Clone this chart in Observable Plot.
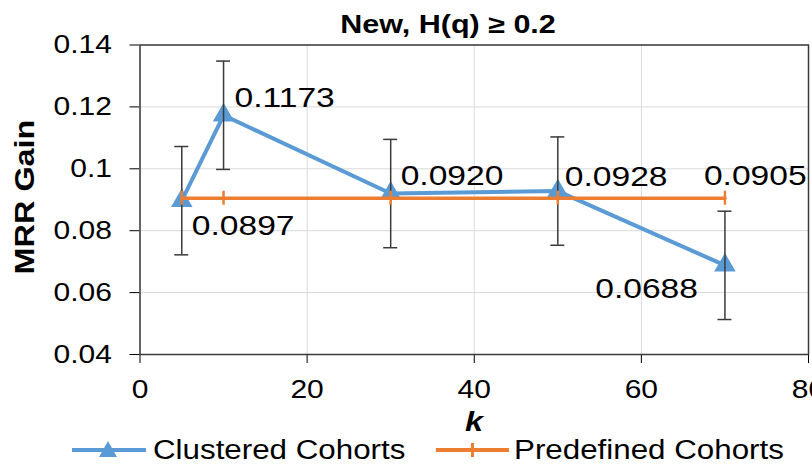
<!DOCTYPE html>
<html><head><meta charset="utf-8">
<script src="https://cdn.jsdelivr.net/npm/d3@7"></script>
<script src="https://cdn.jsdelivr.net/npm/@observablehq/plot@0.6"></script>
<style>
body{margin:0;background:#fff;font-family:"Liberation Sans",Arial,sans-serif;}
#wrap{position:relative;width:812px;height:465px;overflow:hidden;background:#fff;}
#wrap svg{position:absolute;left:0;top:0;}
.ov{position:absolute;white-space:nowrap;color:#000;line-height:1;}
</style></head><body>
<div id="wrap"></div>
<script>
// ---- data ----
const kValues = [5, 10, 30, 50, 70];
const clustered = [0.0897, 0.1173, 0.0920, 0.0928, 0.0688];
const clusteredErr = [0.0175, 0.0175, 0.0175, 0.0175, 0.0175];
const predefined = [0.0905, 0.0905, 0.0905, 0.0905, 0.0905];
const clusteredLabels = ["0.0897", "0.1173", "0.0920", "0.0928", "0.0688"];
const predefinedLabel = "0.0905";
const xTicks = [0, 20, 40, 60, 80];
const yTicks = [0.04, 0.06, 0.08, 0.1, 0.12, 0.14];
const yTickLabels = ["0.04", "0.06", "0.08", "0.1", "0.12", "0.14"];
const titleText = "New, H(q) \u2265 0.2";
const xLabel = "k";
const yLabel = "MRR Gain";
const seriesNames = ["Clustered Cohorts", "Predefined Cohorts"];

// ---- style ----
const BLUE = "#5B9BD5", ORANGE = "#ED7D31", GRID = "#d9d9d9", DARK = "#3a3a3a";
const clusteredLabelPlacement = [
  {dx: 10, dy: 25, anchor: "start"},
  {dx: 11, dy: -17, anchor: "start"},
  {dx: 10, dy: -18, anchor: "start"},
  {dx: 7, dy: -14, anchor: "start"},
  {dx: -27, dy: 24, anchor: "end"}
];
const predefinedLabelPlacement = {dx: -21, dy: -22, anchor: "start"};

const data = kValues.map((k, i) => ({
  k, c: clustered[i], lo: clustered[i] - clusteredErr[i], hi: clustered[i] + clusteredErr[i],
  p: predefined[i], label: clusteredLabels[i]
}));

const labelMarks = data.map((d, i) => Plot.text([d], {
  x: "k", y: "c", text: "label",
  dx: clusteredLabelPlacement[i].dx, dy: clusteredLabelPlacement[i].dy,
  textAnchor: clusteredLabelPlacement[i].anchor, fontSize: 28, fill: "#000"
}));
const last = data[data.length - 1];

const svg = Plot.plot({
  width: 812, height: 465,
  marginTop: 44.5, marginBottom: 111, marginLeft: 139.5, marginRight: 4,
  style: {fontFamily: '"Liberation Sans", Arial, sans-serif', fontSize: "25px", color: "#000", background: "transparent"},
  x: {domain: [0, 80], ticks: xTicks, tickSize: 9, tickPadding: 17, label: null, tickFormat: d => String(d)},
  y: {domain: [0.04, 0.14], ticks: yTicks, tickSize: 10, tickPadding: 18, label: null,
      tickFormat: d => yTickLabels[yTicks.indexOf(d)]},
  marks: [
    Plot.ruleY(yTicks, {stroke: GRID, strokeWidth: 1}),
    Plot.ruleX(xTicks, {stroke: GRID, strokeWidth: 1}),
    Plot.frame({stroke: DARK, strokeWidth: 1.5}),
    Plot.line(data, {x: "k", y: "c", stroke: BLUE, strokeWidth: 4}),
    Plot.dot(data, {x: "k", y: "c", symbol: "triangle", r: 8, fill: BLUE, stroke: null}),
    Plot.ruleX(data, {x: "k", y1: "lo", y2: "hi", stroke: DARK, strokeWidth: 1.5}),
    Plot.ruleY(data, {y: "hi", x1: "k", x2: "k", insetLeft: -7, insetRight: -7, stroke: DARK, strokeWidth: 1.5}),
    Plot.ruleY(data, {y: "lo", x1: "k", x2: "k", insetLeft: -7, insetRight: -7, stroke: DARK, strokeWidth: 1.5}),
    Plot.line(data, {x: "k", y: "p", stroke: ORANGE, strokeWidth: 3.5}),
    Plot.ruleX(data, {x: "k", y1: "p", y2: "p", insetTop: -7, insetBottom: -7, stroke: ORANGE, strokeWidth: 2.5}),
    ...labelMarks,
    Plot.text([last], {x: "k", y: "p", text: () => predefinedLabel,
      dx: predefinedLabelPlacement.dx, dy: predefinedLabelPlacement.dy,
      textAnchor: predefinedLabelPlacement.anchor, fontSize: 28, fill: "#000"})
  ]
});

// widen glyphs horizontally (reference text is rendered wide)
const S = 1.2;
svg.querySelectorAll("text").forEach(t => {
  const x = t.getAttribute("x") || 0;
  t.removeAttribute("x");
  const tr = t.getAttribute("transform") || "";
  t.setAttribute("transform", `${tr} translate(${x},0) scale(${S},1)`);
});

const wrap = document.getElementById("wrap");
wrap.appendChild(svg);

function ov(text, css) {
  const d = document.createElement("div");
  d.className = "ov";
  d.textContent = text;
  Object.assign(d.style, css);
  wrap.appendChild(d);
  return d;
}
// title
ov(titleText, {left: "448px", top: "24px", fontWeight: "bold", fontSize: "25px",
  transform: "translate(-50%,-50%) scaleX(1.22)"});
// y label
ov(yLabel, {left: "25px", top: "197px", fontWeight: "bold", fontSize: "27px",
  transform: "translate(-50%,-50%) rotate(-90deg) scaleX(1.2)"});
// x label
ov(xLabel, {left: "474px", top: "422px", fontWeight: "bold", fontStyle: "italic", fontSize: "27px",
  transform: "translate(-50%,-50%) scaleX(1.2)"});

// legend
function box(css) {
  const d = document.createElement("div");
  d.style.position = "absolute";
  Object.assign(d.style, css);
  wrap.appendChild(d);
}
box({left: "72px", top: "448px", width: "74px", height: "4px", background: BLUE});
box({left: "99px", top: "441px", width: "0", height: "0", borderLeft: "9px solid transparent",
  borderRight: "9px solid transparent", borderBottom: "16px solid " + BLUE});
ov(seriesNames[0], {left: "153px", top: "450px", fontSize: "27px", transformOrigin: "0 50%",
  transform: "translateY(-50%) scaleX(1.16)"});
box({left: "436px", top: "448.25px", width: "73px", height: "3.5px", background: ORANGE});
box({left: "471px", top: "443px", width: "2.5px", height: "14px", background: ORANGE});
ov(seriesNames[1], {left: "514px", top: "450px", fontSize: "27px", transformOrigin: "0 50%",
  transform: "translateY(-50%) scaleX(1.16)"});
</script>
</body></html>
